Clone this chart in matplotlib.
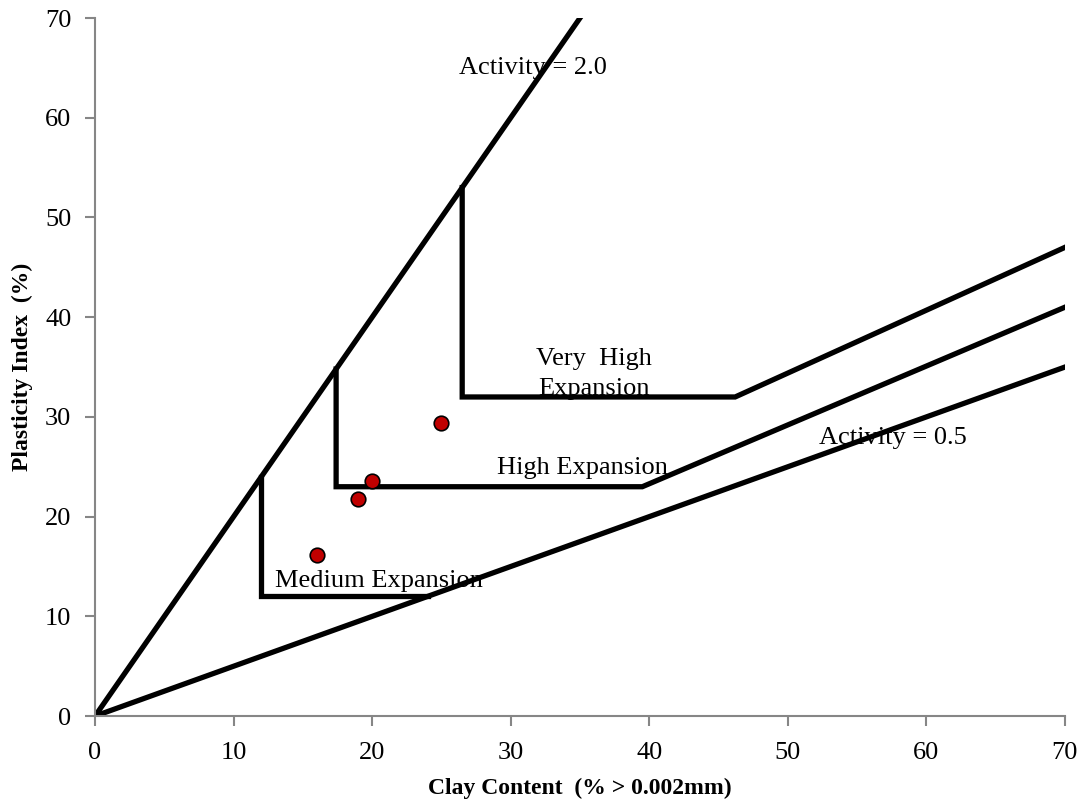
import matplotlib.pyplot as plt

# boundary lines (clay %, PI %)
act2_x = [0, 35]
act2_y = [0, 70]
act05_x = [0, 70]
act05_y = [0, 35]
medium_x = [12, 12, 24]
medium_y = [24, 12, 12]
high_x = [17.4, 17.4, 39.5, 70]
high_y = [34.8, 23, 23, 41]
vhigh_x = [26.5, 26.5, 46.2, 70]
vhigh_y = [53, 32, 32, 47]

# samples
clay = [16, 19, 20, 25]
pi = [16.2, 21.8, 23.6, 29.4]

plt.rcParams['font.family'] = ['Liberation Serif', 'DejaVu Serif']

fig = plt.figure(figsize=(10.8, 8.01), dpi=100)
ax = fig.add_axes([0.088, 0.106, 0.898, 0.8715])

for xs, ys in [(act2_x, act2_y), (act05_x, act05_y), (medium_x, medium_y),
               (high_x, high_y), (vhigh_x, vhigh_y)]:
    ax.plot(xs, ys, color='black', lw=3.8, solid_joinstyle='miter', zorder=2)

ax.scatter(clay, pi, s=110, color='#C00000', edgecolor='black', linewidth=1.2, zorder=3)

fs = 19
ax.text(31.6, 65, 'Activity = 2.0', ha='center', va='center', fontsize=fs)
ax.text(36.0, 34.3, 'Very  High\nExpansion', ha='center', va='center', fontsize=fs,
        linespacing=1.5)
ax.text(35.2, 24.9, 'High Expansion', ha='center', va='center', fontsize=fs)
ax.text(20.5, 13.5, 'Medium Expansion', ha='center', va='center', fontsize=fs)
ax.text(57.6, 27.9, 'Activity = 0.5', ha='center', va='center', fontsize=fs)

ax.set_xlim(0, 70)
ax.set_ylim(0, 70)
ax.set_xticks(range(0, 71, 10))
ax.set_yticks(range(0, 71, 10))
for s in ['top', 'right']:
    ax.spines[s].set_visible(False)
for s in ['left', 'bottom']:
    ax.spines[s].set_color('#868686')
    ax.spines[s].set_linewidth(1.5)
ax.tick_params(direction='out', length=7, width=1.5, color='#868686',
               labelsize=19)
ax.tick_params(axis='x', pad=12)
ax.tick_params(axis='y', pad=10)

ax.set_xlabel('Clay Content  (% > 0.002mm)', fontsize=17, fontweight='bold', va='center')
ax.set_ylabel('Plasticity Index  (%)', fontsize=17, fontweight='bold', va='center')
ax.xaxis.set_label_coords(0.5, -0.103)
ax.yaxis.set_label_coords(-0.075, 0.5)

fig.savefig('out.png', dpi=100)
